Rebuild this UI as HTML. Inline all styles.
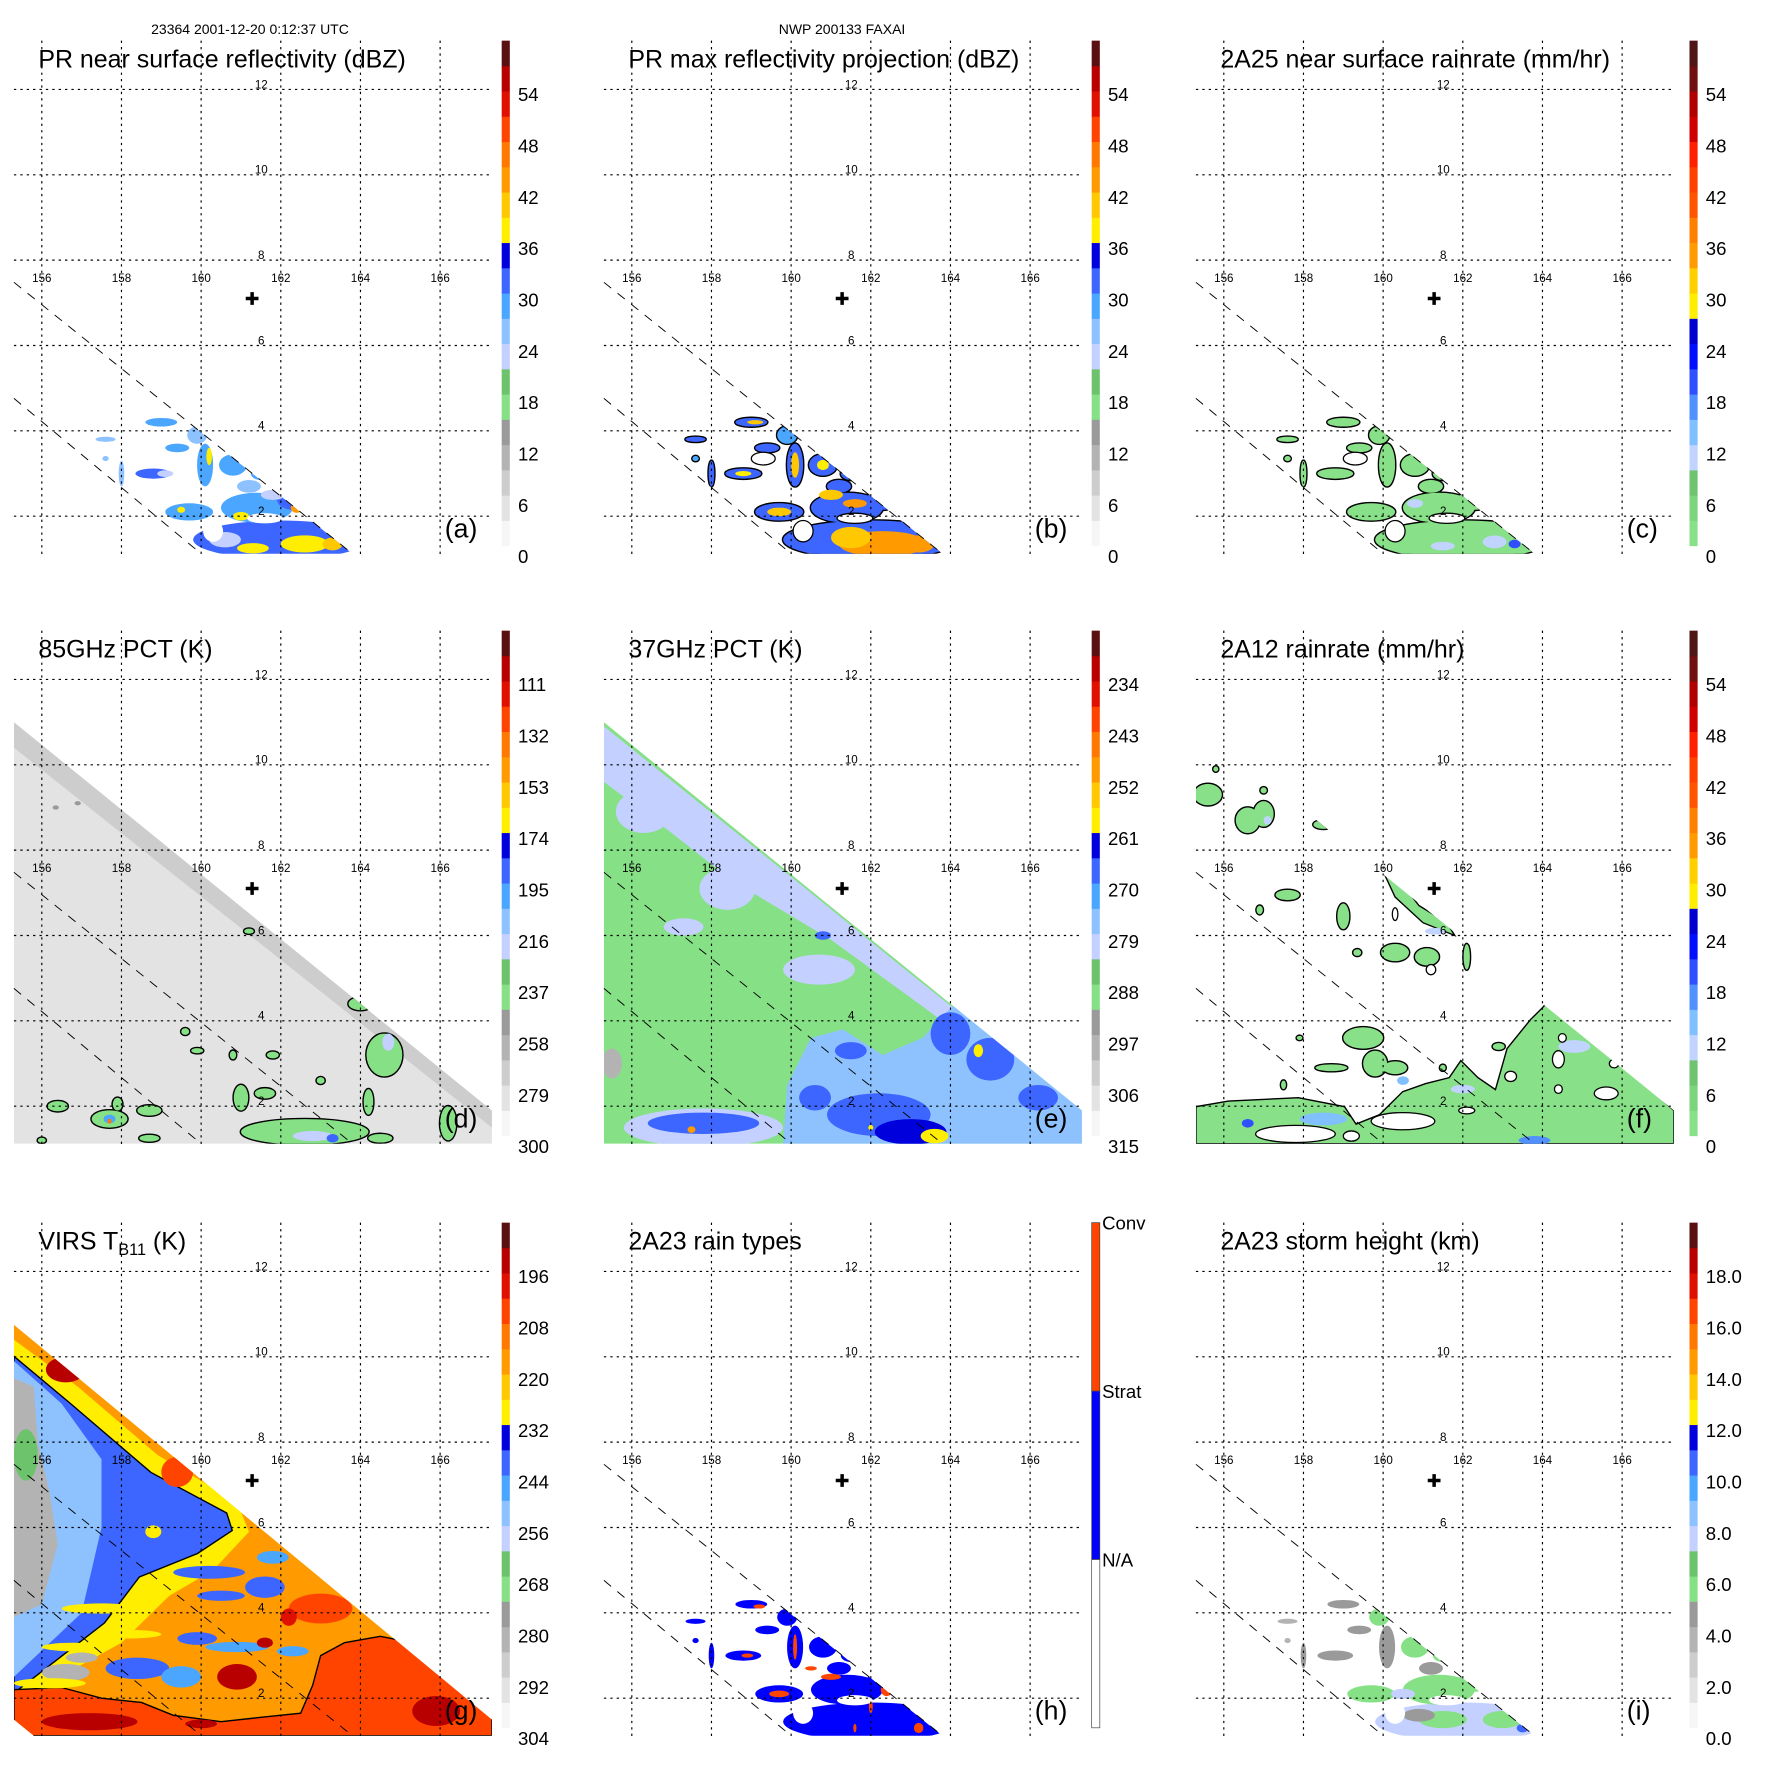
<!DOCTYPE html>
<html><head><meta charset="utf-8"><title>TRMM FAXAI panels</title>
<style>
html,body{margin:0;padding:0;background:#fff;}
svg{display:block;font-family:"Liberation Sans",sans-serif;}
</style></head>
<body>
<svg id="fig" width="1771" height="1771" viewBox="0 0 1771 1771" xmlns="http://www.w3.org/2000/svg">
<rect x="0" y="0" width="1771" height="1771" fill="#fff"/>
<text x="250" y="34" font-size="14" text-anchor="middle">23364 2001-12-20 0:12:37 UTC</text>
<text x="842" y="34" font-size="14" text-anchor="middle">NWP 200133 FAXAI</text>
</svg>
<script>
const lonTicks=[156,158,160,162,164,166];
const latTicks=[12,10,8,6,4,2];
const prSwath=[[155.3,7.48],[163.8,1.12],[160.0,1.12],[155.3,4.76]];
const wideSwath=[[155.3,11.0],[167.3,1.9],[167.3,1.12],[155.3,1.12]];
const virsSwath=[[155.3,10.75],[167.3,1.5],[167.3,1.12],[155.8,1.12],[155.3,1.5]];
const scanLine1=[[155.3,7.48],[163.8,1.12]];
const scanLine2=[[155.3,4.76],[160.0,1.12]];
const centerMark=[161.28,7.1];

const dbzPal=['#f6f6f6','#e3e3e3','#cdcdcd','#b3b3b3','#9a9a9a','#86e086','#6cc36c','#c4d0ff','#8ec2ff','#4aa6ff','#3c66ff','#0000dd','#ffee00','#ffc800','#ff9a00','#ff7800','#ff4400','#e01000','#b80000','#5a1010'];
const rainPal=['#88e088','#7cd47c','#70c470','#c0d4ff','#80c0ff','#5090ff','#3050ff','#0010ff','#0000d0','#ffee00','#ffd000','#ff9a00','#ff8000','#ff5500','#ff4000','#ff2000','#d00000','#b00000','#701010','#501515'];
const typePal=['#ffffff','#0000ff','#ff4400'];

const prCells=[[162.0,1.45,2.2,0.45],[161.4,2.2,0.9,0.35],[162.3,2.4,0.4,0.25],[159.7,2.1,0.6,0.2],[160.1,3.2,0.2,0.5],[159.9,3.9,0.25,0.2],[159.4,3.6,0.3,0.1],[158.8,3.0,0.45,0.12],[159.0,4.2,0.4,0.1],[160.8,3.2,0.35,0.25],[161.2,2.7,0.3,0.15],[157.6,3.8,0.25,0.06],[158.0,3.0,0.07,0.3],[157.6,3.35,0.08,0.06],[161.5,3.0,0.25,0.15]];
const prHoles=[[161.6,1.95,0.45,0.12],[160.3,1.65,0.25,0.25],[159.3,3.35,0.3,0.15]];
const aVals=[30,28,32,27,29,26,28,30,27,29,26,24,25,24,29];
const aAcc=[[162.6,1.35,0.6,0.2,38],[163.3,1.35,0.25,0.15,41],[161.3,1.25,0.4,0.12,37],[162.4,2.2,0.15,0.12,42],[160.2,3.4,0.07,0.2,38],[159.5,2.15,0.1,0.07,38],[161.0,2.0,0.2,0.1,37],[160.6,1.45,0.4,0.18,22],[159.1,3.0,0.2,0.08,22],[161.8,2.5,0.3,0.12,22]];
const bVals=[31,30,32,30,31,29,30,31,30,31,30,30,30,29,31];
const bAcc=[[162.3,1.35,1.1,0.3,42],[163.2,1.35,0.4,0.2,44],[161.5,1.5,0.5,0.25,40],[160.1,3.2,0.1,0.3,40],[159.7,2.1,0.3,0.1,40],[161.0,2.5,0.3,0.12,40],[160.8,3.2,0.15,0.12,38],[158.8,3.0,0.2,0.06,38],[159.1,4.2,0.2,0.05,40],[161.6,2.3,0.3,0.1,42]];
const cVals=[2,2,2,2,2,2,2,2,2,2,2,2,2,2,2];
const cAcc=[[162.8,1.4,0.3,0.15,11],[161.5,1.3,0.3,0.1,10],[163.3,1.35,0.15,0.1,20],[160.8,2.3,0.2,0.1,11]];
const hVals=[1,1,1,1,1,1,1,1,1,1,1,1,1,1,1];
const hAcc=[[162.4,2.2,0.15,0.15,2],[160.1,3.2,0.05,0.3,2],[159.7,2.1,0.25,0.08,2],[161.0,2.5,0.25,0.07,2],[163.2,1.3,0.12,0.12,2],[162.0,1.8,0.05,0.15,2],[158.9,3.0,0.15,0.05,2],[159.2,4.15,0.15,0.05,2],[160.5,2.7,0.15,0.05,2],[161.6,1.3,0.04,0.1,2]];
const iVals=[7,5.5,5.5,5.5,4.5,5.5,4,4,4.5,5.5,4,3,4,3,5.5];
const iAcc=[[161.5,1.5,0.6,0.2,5.8],[160.9,1.6,0.4,0.15,4],[163.0,1.5,0.5,0.2,5.8],[163.5,1.3,0.15,0.1,10],[160.5,2.1,0.3,0.12,7.5]];

const dBand=[[[155.3,11.0],[167.3,1.9],[167.3,1.5],[155.3,10.4]],279];
const dCells=[[164.6,3.2,0.45,0.5],[162.6,1.4,1.6,0.3],[161.0,2.2,0.18,0.3],[161.6,2.3,0.25,0.12],[157.7,1.7,0.45,0.2],[158.7,1.9,0.3,0.12],[156.4,2.0,0.25,0.12],[157.9,2.05,0.12,0.15],[158.7,1.25,0.25,0.08],[159.6,3.75,0.1,0.08],[159.9,3.3,0.15,0.06],[160.8,3.2,0.08,0.1],[161.8,3.2,0.15,0.08],[164.2,2.1,0.12,0.3],[166.2,1.6,0.2,0.4],[164.0,4.4,0.3,0.15],[161.2,6.1,0.12,0.06],[163.0,2.6,0.1,0.08],[156.0,1.2,0.1,0.06],[164.5,1.25,0.3,0.1]];
const dVals=[240,240,238,240,240,240,240,240,238,240,240,240,240,240,240,240,240,240,240,240];
const dAcc=[[162.8,1.3,0.5,0.12,220],[157.7,1.7,0.15,0.1,200],[157.7,1.65,0.05,0.06,140],[164.7,3.5,0.15,0.2,225],[163.3,1.25,0.15,0.1,195],[156.35,9.0,0.08,0.05,255],[156.9,9.1,0.08,0.05,255]];

const eBand=[[[155.3,10.9],[160.5,7.0],[163.0,5.1],[167.3,1.9],[167.3,1.4],[163.5,4.2],[161,5.9],[158.5,7.3],[157,8.4],[155.3,9.6]],282];
const eBlueRegion=[[[159.8,1.12],[159.9,2.5],[160.5,3.6],[161.3,3.8],[162.3,3.2],[163.3,3.6],[164.0,4.3],[164.3,4.5],[167.3,1.9],[167.3,1.12]],277];
const eCells=[[156.3,8.9,0.7,0.5,280],[158.4,7.1,0.7,0.5,282],[160.7,5.2,0.9,0.35,283],[157.3,6.2,0.5,0.2,283],[162.2,1.8,1.3,0.5,268],[164.0,3.7,0.5,0.5,266],[165.0,3.1,0.6,0.5,268],[163.0,1.4,0.9,0.3,264],[161.5,3.3,0.4,0.2,268],[166.2,2.2,0.5,0.3,270],[160.6,2.2,0.4,0.3,270],[157.8,1.5,2.0,0.45,282],[157.8,1.6,1.4,0.25,270],[158.0,1.5,0.3,0.12,266],[164.7,3.3,0.12,0.15,260],[163.6,1.3,0.35,0.17,260],[162.0,1.5,0.06,0.06,260],[157.5,1.45,0.1,0.08,250],[155.5,3.0,0.25,0.35,300],[160.8,6.0,0.2,0.1,268]];

const fRegion=[[[155.3,1.12],[155.3,1.99],[156.12,2.12],[157.87,2.2],[159.03,1.99],[159.32,1.58],[159.91,1.8],[160.49,2.34],[161.07,2.53],[161.66,2.67],[161.95,3.07],[162.38,2.67],[162.82,2.39],[163.11,3.35],[163.7,4.03],[163.99,4.3],[164.2,4.52],[167.3,1.9],[167.3,1.12]],1.5];
const fStreak=[[[160.0,7.5],[160.3,6.9],[161.0,6.3],[161.8,6.0],[161.6,6.3],[160.9,6.7],[160.4,7.3]],1.5];
const fCells=[[155.6,9.3,0.35,0.25],[156.6,8.7,0.3,0.3],[157.0,8.85,0.25,0.3],[158.5,8.6,0.25,0.1],[157.6,6.95,0.3,0.12],[159.0,6.45,0.15,0.3],[159.35,5.6,0.1,0.08],[156.9,6.6,0.08,0.1],[160.3,5.6,0.35,0.2],[161.1,5.5,0.3,0.2],[162.1,5.5,0.08,0.3],[159.5,3.6,0.5,0.25],[159.8,3.0,0.3,0.3],[160.3,2.9,0.3,0.15],[158.7,2.9,0.4,0.08],[157.9,3.6,0.07,0.05],[157.5,2.5,0.06,0.1],[161.5,2.9,0.07,0.07],[162.9,3.4,0.15,0.08],[155.8,9.9,0.06,0.06],[157.0,9.4,0.08,0.07]];
const fVals=[1.5,1.5,1.5,1.5,1.5,1.5,1.5,1.5,1.5,1.5,1.5,1.5,1.5,1.5,1.5,1.5,1.5,1.5,1.5,1.5,1.5];
const fHoles=[[160.3,6.5,0.07,0.15],[161.2,5.2,0.12,0.12],[164.4,3.1,0.15,0.2],[165.6,2.3,0.3,0.15],[165.8,3.0,0.12,0.1],[164.4,2.4,0.1,0.1],[162.1,1.9,0.2,0.08],[164.5,3.6,0.1,0.1],[157.8,1.35,1.0,0.2],[160.5,1.65,0.8,0.2],[159.2,1.3,0.2,0.12],[163.2,2.7,0.15,0.12]];
const fAcc=[[158.5,1.7,0.6,0.15,12],[156.6,1.6,0.15,0.1,20],[163.8,1.2,0.4,0.1,16],[164.8,3.4,0.4,0.15,10],[162.0,2.4,0.3,0.1,10],[161.3,6.1,0.25,0.08,11],[160.5,2.6,0.15,0.1,14],[157.1,8.7,0.1,0.1,10]];

const gYellow=[[[155.3,10.4],[156.9,9.3],[158.9,7.7],[160.9,6.6],[161.2,5.9],[160.3,5.0],[159.2,4.4],[158,3.3],[155.3,1.9]],232];
const gBlue=[[[155.3,10.01],[156.7,8.92],[158.74,7.29],[160.64,6.34],[160.78,5.93],[159.91,5.39],[158.45,4.84],[157.57,3.76],[155.3,2.12]],240];
const gLight=[[[155.3,9.9],[156.5,8.9],[157.5,7.6],[157.5,6.0],[157.0,4.0],[155.3,2.5]],256];
const gGray=[[[155.3,9.5],[155.8,9.3],[155.9,8.0],[156.2,6.8],[156.4,5.6],[156.0,4.2],[155.3,3.9]],285];
const gRed=[[[155.3,1.12],[155.3,2.2],[156.5,2.25],[157.5,2.0],[158.5,1.9],[159.3,1.6],[160.5,1.45],[161.5,1.55],[162.5,1.65],[162.8,2.3],[163.0,3.0],[163.6,3.3],[164.5,3.45],[165.3,3.3],[166.0,2.9],[167.3,2.0],[167.3,1.12]],206];
const gCells=[[160.2,4.95,0.9,0.15,240],[160.5,4.4,0.6,0.12,240],[161.6,4.6,0.5,0.25,240],[161.8,5.3,0.4,0.15,250],[159.9,3.4,0.5,0.15,242],[160.9,3.2,0.8,0.12,245],[162.3,3.1,0.4,0.12,250],[158.4,2.7,0.8,0.25,242],[159.5,2.5,0.5,0.25,245],[155.6,7.7,0.3,0.6,268],[156.6,2.6,0.6,0.2,282],[157.0,2.95,0.4,0.12,282],[158.8,5.9,0.2,0.15,232],[157.5,4.1,1.0,0.12,232],[158.2,3.5,0.8,0.1,232],[156.8,3.2,0.8,0.1,232],[156.2,2.35,0.9,0.12,232],[163.0,4.1,0.8,0.35,205],[162.2,3.9,0.2,0.2,200],[159.4,7.3,0.4,0.35,205],[156.6,9.7,0.5,0.3,196],[160.9,2.5,0.5,0.3,192],[165.9,1.7,0.6,0.35,192],[157.2,1.45,1.2,0.2,195],[161.6,3.3,0.2,0.12,192],[160.0,1.4,0.4,0.1,195]];

const dbzTicks=['0','6','12','18','24','30','36','42','48','54'];
const rainTicks=['0','6','12','18','24','30','36','42','48','54'];
const pct85Ticks=['300','279','258','237','216','195','174','153','132','111'];
const pct37Ticks=['315','306','297','288','279','270','261','252','243','234'];
const virsTicks=['304','292','280','268','256','244','232','220','208','196'];
const htTicks=['0.0','2.0','4.0','6.0','8.0','10.0','12.0','14.0','16.0','18.0'];
const typeTicks=['N/A','Strat','Conv'];

const colOff=[0,590,1182], rowOff=[0,590,1182], cbOff=[432,432,437];
const SCALE=1.1613;
const SVGNS='http://www.w3.org/2000/svg';
const svg=document.getElementById('fig');
let clipN=0;
function mk(tag,parent){const e=document.createElementNS(SVGNS,tag);parent.appendChild(e);return e;}
function X(p,lon){return 36+(lon-156)*34.3;}
function Y(p,lat){return 77+(12-lat)*36.75;}
function ptsStr(p,arr){return arr.map(q=>X(p,q[0]).toFixed(1)+','+Y(p,q[1]).toFixed(1)).join(' ');}
function palColor(pal,lv){let k=Math.floor(lv/3);if(k<0)k=0;if(k>19)k=19;return pal[k];}

const panels=[
 {id:'a',c:0,r:0,title:'PR near surface reflectivity (dBZ)',clip:prSwath,pal:dbzPal,lv:v=>v,ticks:dbzTicks,
  layers:[{cells:prCells,vals:aVals},{cells:aAcc},{holes:prHoles}]},
 {id:'b',c:1,r:0,title:'PR max reflectivity projection (dBZ)',clip:prSwath,pal:dbzPal,lv:v=>v,ticks:dbzTicks,
  layers:[{cells:prCells,vals:bVals,outline:true},{cells:bAcc},{holes:prHoles,stroke:true}]},
 {id:'c',c:2,r:0,title:'2A25 near surface rainrate (mm/hr)',clip:prSwath,pal:rainPal,lv:v=>v,ticks:rainTicks,
  layers:[{cells:prCells,vals:cVals,outline:true},{cells:cAcc},{holes:prHoles,stroke:true}]},
 {id:'d',c:0,r:1,title:'85GHz PCT (K)',clip:wideSwath,pal:dbzPal,lv:v=>(300-v)/3.5,ticks:pct85Ticks,bg:285,
  layers:[{poly:dBand},{cells:dCells,vals:dVals,outline:true},{cells:dAcc}]},
 {id:'e',c:1,r:1,title:'37GHz PCT (K)',clip:wideSwath,pal:dbzPal,lv:v=>(315-v)/1.5,ticks:pct37Ticks,bg:290,
  layers:[{poly:eBand},{poly:eBlueRegion},{cells:eCells}]},
 {id:'f',c:2,r:1,title:'2A12 rainrate (mm/hr)',clip:wideSwath,pal:rainPal,lv:v=>v,ticks:rainTicks,
  layers:[{poly:fRegion,outline:true},{poly:fStreak,outline:true},{cells:fCells,vals:fVals,outline:true},{cells:fAcc},{holes:fHoles,stroke:true}]},
 {id:'g',c:0,r:2,title:'VIRS',clip:virsSwath,pal:dbzPal,lv:v=>(304-v)/2,ticks:virsTicks,bg:218,
  layers:[{poly:gYellow},{poly:gBlue,outline:true},{poly:gLight},{poly:gGray},{poly:gRed,outline:true},{cells:gCells}]},
 {id:'h',c:1,r:2,title:'2A23 rain types',clip:prSwath,pal:typePal,lv:v=>v,ticks:typeTicks,typeBar:true,
  layers:[{cells:prCells,vals:hVals},{cells:hAcc},{holes:prHoles}]},
 {id:'i',c:2,r:2,title:'2A23 storm height (km)',clip:prSwath,pal:dbzPal,lv:v=>v*3,ticks:htTicks,
  layers:[{cells:prCells,vals:iVals},{cells:iAcc},{holes:prHoles}]}
];

function colorOf(p,v){ if(p.typeBar) return p.pal[v]; return palColor(p.pal,p.lv(v)); }

panels.forEach(p=>{
 const g=mk('g',svg);
 g.setAttribute('transform','translate('+colOff[p.c]+','+rowOff[p.r]+') scale('+SCALE+')');
 
 
 const defs=mk('defs',g);
 const cp=mk('clipPath',defs); const cid='clip'+(clipN++); cp.setAttribute('id',cid);
 const cpp=mk('polygon',cp); cpp.setAttribute('points',ptsStr(p,p.clip));
 const data=mk('g',g);
 data.setAttribute('clip-path','url(#'+cid+')');
 
 
 if(p.bg!==undefined){
  const bgp=mk('polygon',data); bgp.setAttribute('points',ptsStr(p,p.clip)); bgp.setAttribute('fill',colorOf(p,p.bg));
  
  
 }
 p.layers.forEach(L=>{
  if(L.poly){
   const poly=mk('polygon',data);
   poly.setAttribute('points',ptsStr(p,L.poly[0]));
   poly.setAttribute('fill',colorOf(p,L.poly[1]));
   if(L.outline){poly.setAttribute('stroke','#000');poly.setAttribute('stroke-width','1.2');}
   
   
  }
  if(L.cells){
   const passes=L.outline?[true,false]:[false];
   passes.forEach(isStroke=>{
    L.cells.forEach((c,i)=>{
     const v=L.vals?L.vals[i]:c[4];
     const e=mk('ellipse',data);
     e.setAttribute('cx',X(p,c[0]).toFixed(1));
     e.setAttribute('cy',Y(p,c[1]).toFixed(1));
     e.setAttribute('rx',(c[2]*34.3).toFixed(1));
     e.setAttribute('ry',(c[3]*36.75).toFixed(1));
     e.setAttribute('fill',isStroke?'#000':colorOf(p,v));
     if(isStroke){e.setAttribute('stroke','#000');e.setAttribute('stroke-width','2.4');}
     
     
    });
   });
  }
  if(L.holes){
   L.holes.forEach(c=>{
    const e=mk('ellipse',data);
    e.setAttribute('cx',X(p,c[0]).toFixed(1));
    e.setAttribute('cy',Y(p,c[1]).toFixed(1));
    e.setAttribute('rx',(c[2]*34.3).toFixed(1));
    e.setAttribute('ry',(c[3]*36.75).toFixed(1));
    e.setAttribute('fill','#fff');
    if(L.stroke){e.setAttribute('stroke','#000');e.setAttribute('stroke-width','1.1');}
    
    
   });
  }
 });
 lonTicks.forEach(lon=>{
  const l=mk('line',g);
  l.setAttribute('x1',X(p,lon));l.setAttribute('x2',X(p,lon));
  l.setAttribute('y1',35);l.setAttribute('y2',477);
  l.setAttribute('stroke','#000');l.setAttribute('stroke-width','1');l.setAttribute('stroke-dasharray','2 3.5');
  
  
  const t=mk('text',g);
  t.setAttribute('x',X(p,lon));t.setAttribute('y',243);
  t.setAttribute('font-size','10');t.setAttribute('text-anchor','middle');
  t.textContent=String(lon);
  
  
 });
 latTicks.forEach(lat=>{
  const l=mk('line',g);
  l.setAttribute('x1',12);l.setAttribute('x2',423);
  l.setAttribute('y1',Y(p,lat));l.setAttribute('y2',Y(p,lat));
  l.setAttribute('stroke','#000');l.setAttribute('stroke-width','1');l.setAttribute('stroke-dasharray','2 3.5');
  
  
  const t=mk('text',g);
  t.setAttribute('x',225);t.setAttribute('y',Y(p,lat)-1);
  t.setAttribute('font-size','10');t.setAttribute('text-anchor','middle');
  t.textContent=String(lat);
  
  
 });
 [scanLine1,scanLine2].forEach(sl=>{
  const l=mk('line',g);
  l.setAttribute('x1',X(p,sl[0][0]));l.setAttribute('y1',Y(p,sl[0][1]));
  l.setAttribute('x2',X(p,sl[1][0]));l.setAttribute('y2',Y(p,sl[1][1]));
  l.setAttribute('stroke','#000');l.setAttribute('stroke-width','0.8');l.setAttribute('stroke-dasharray','8 7');
  
  
 });
 const cx=X(p,centerMark[0]), cy=Y(p,centerMark[1]);
 const cross=mk('path',g);
 cross.setAttribute('d','M'+(cx-5.5)+' '+cy+'H'+(cx+5.5)+'M'+cx+' '+(cy-5.5)+'V'+(cy+5.5));
 cross.setAttribute('stroke','#000');cross.setAttribute('stroke-width','3');
 
 
 const tt=mk('text',g);
 tt.setAttribute('x',33);tt.setAttribute('y',58);tt.setAttribute('font-size','21.5');
 if(p.id==='g'){
  tt.textContent='VIRS T';
  const s=mk('tspan',tt); s.setAttribute('font-size','14'); s.setAttribute('dy','5'); s.textContent='B11';
  const s2=mk('tspan',tt); s2.setAttribute('dy','-5'); s2.textContent=' (K)';
 } else tt.textContent=p.title;
 
 
 const lt=mk('text',g);
 lt.setAttribute('x',383);lt.setAttribute('y',463);lt.setAttribute('font-size','23');
 lt.textContent='('+p.id+')';
 
 
 const cbx=cbOff[p.c], top=35, bot=470;
 const cb=mk('g',g);
 
 
 if(p.typeBar){
  const h=(bot-top)/3;
  const ly=[bot-h,bot-2*h,top];
  [0,1,2].forEach(k=>{
   const r=mk('rect',cb);
   r.setAttribute('x',cbx);r.setAttribute('y',bot-(k+1)*h);r.setAttribute('width',7);r.setAttribute('height',h);
   r.setAttribute('fill',p.pal[k]);r.setAttribute('stroke','#444');r.setAttribute('stroke-width','0.6');
   
   
   const t=mk('text',cb);
   t.setAttribute('x',cbx+9);t.setAttribute('y',ly[k]+6);
   t.setAttribute('font-size','16');
   t.textContent=p.ticks[k];
   
   
  });
 } else {
  const h=(bot-top)/20;
  for(let k=0;k<20;k++){
   const r=mk('rect',cb);
   r.setAttribute('x',cbx);r.setAttribute('y',(bot-(k+1)*h).toFixed(2));r.setAttribute('width',7);r.setAttribute('height',(h+0.3).toFixed(2));
   r.setAttribute('fill',p.pal[k]);
   
   
  }
  p.ticks.forEach((lab,k)=>{
   const t=mk('text',cb);
   t.setAttribute('x',cbx+14);t.setAttribute('y',(479-k*6*7.37+6).toFixed(1));
   t.setAttribute('font-size','16');
   t.textContent=lab;
   
   
  });
 }
});
</script>
</body></html>
